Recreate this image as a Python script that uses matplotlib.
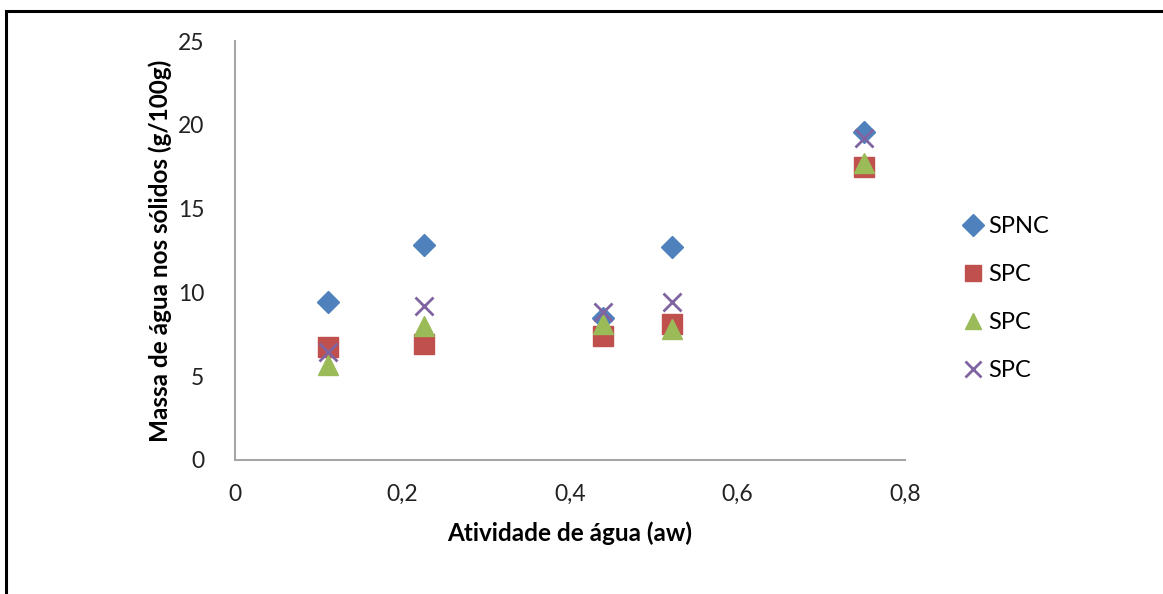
import matplotlib.pyplot as plt
from matplotlib.patches import Rectangle

# water activity of the saturated salt solutions
aw = [0.111, 0.226, 0.439, 0.522, 0.751]

# moisture content (g/100g solids) per sample
spnc = [9.45, 12.85, 8.5, 12.7, 19.6]
spc_1 = [6.75, 6.95, 7.4, 8.1, 17.5]
spc_2 = [5.65, 8.0, 8.1, 7.8, 17.7]
spc_3 = [6.45, 9.2, 8.85, 9.4, 19.2]

labels = ['SPNC', 'SPC', 'SPC', 'SPC']

plt.rcParams['font.family'] = ['Lato', 'DejaVu Sans']

fig = plt.figure(figsize=(11.63, 5.94), dpi=100)

# outer frame, cut off on the right and bottom like the screenshot
fig.patches.append(Rectangle((6 / 1163, -0.1), 1.2, (594 - 11) / 594 + 0.1,
                             transform=fig.transFigure, fill=False,
                             edgecolor='black', linewidth=2.2))

ax = fig.add_axes([235 / 1163, (594 - 460) / 594, 670 / 1163, 419 / 594])

ax.plot(aw, spnc, linestyle='none', marker='D', markersize=11,
        color='#4F81BD', label=labels[0])
ax.plot(aw, spc_1, linestyle='none', marker='s', markersize=14,
        color='#C0504D', label=labels[1])
ax.plot(aw, spc_2, linestyle='none', marker='^', markersize=15,
        color='#9BBB59', label=labels[2])
ax.plot(aw, spc_3, linestyle='none', marker='x', markersize=13,
        markeredgewidth=2, color='#8064A2', label=labels[3])

ax.set_xlim(0, 0.8)
ax.set_ylim(0, 25)
ax.set_xticks([0, 0.2, 0.4, 0.6, 0.8])
ax.set_xticklabels(['0', '0,2', '0,4', '0,6', '0,8'])
ax.set_yticks([0, 5, 10, 15, 20, 25])
ax.tick_params(length=0, labelsize=16.5, colors='#222222', pad=17)
ax.tick_params(axis='y', pad=22)

for side in ['top', 'right']:
    ax.spines[side].set_visible(False)
for side in ['left', 'bottom']:
    ax.spines[side].set_color('#A6A6A6')
    ax.spines[side].set_linewidth(1.5)

ax.set_xlabel('Atividade de água (aw)', fontsize=17.5, fontweight='bold',
              labelpad=12)
ax.set_ylabel('Massa de água nos sólidos (g/100g)', fontsize=17.5,
              fontweight='bold', labelpad=4)

leg = ax.legend(loc='center left', bbox_to_anchor=(1.05, 0.385), frameon=False,
                fontsize=17, labelspacing=1.15, handletextpad=0.1,
                handlelength=1.1)
for h in leg.legend_handles:
    h.set_markersize(11)

fig.savefig('out.png', dpi=100)
